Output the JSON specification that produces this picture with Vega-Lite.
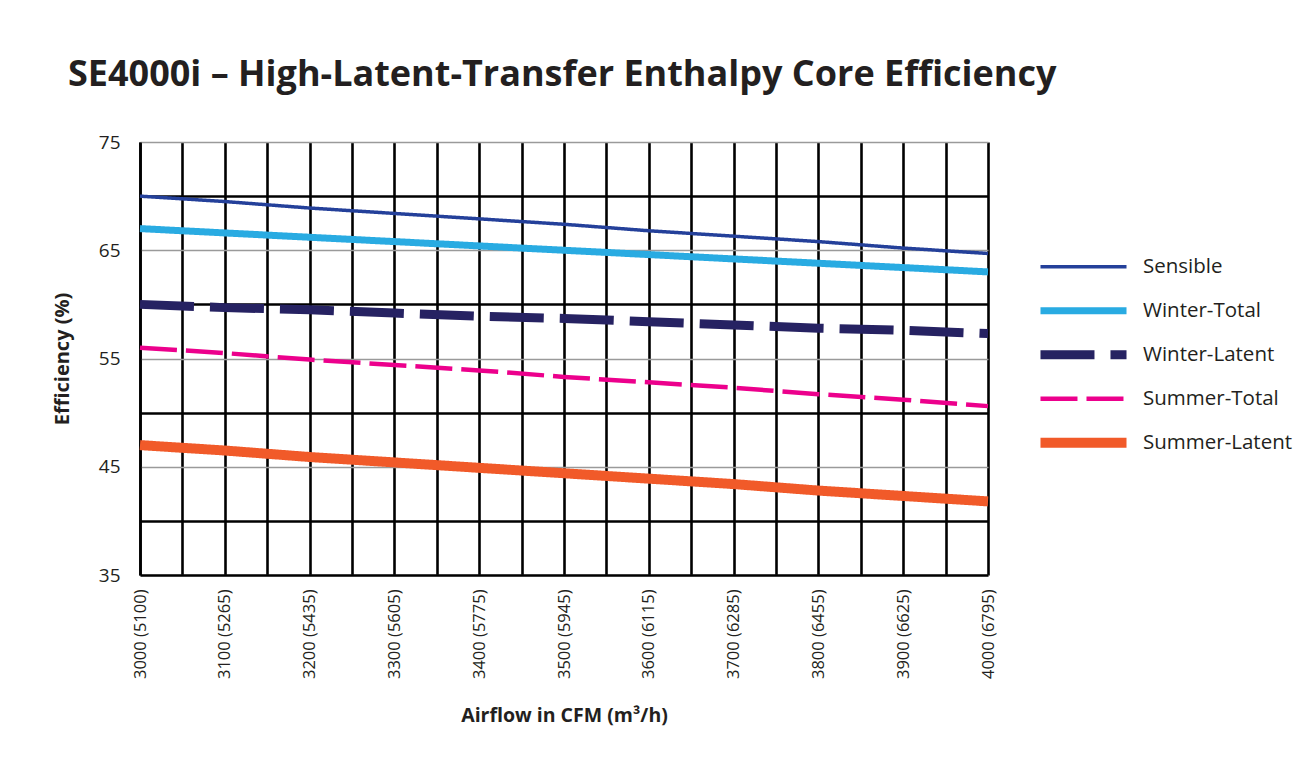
{
  "$schema": "https://vega.github.io/schema/vega-lite/v6.json",
  "width": 848,
  "height": 433,
  "autosize": "none",
  "padding": {"left": 140, "top": 142, "right": 327, "bottom": 199},
  "background": "white",
  "title": {
    "text": "SE4000i – High-Latent-Transfer Enthalpy Core Efficiency",
    "anchor": "start",
    "frame": "group",
    "dx": -72,
    "offset": 39,
    "fontSize": 36,
    "font": "Open Sans",
    "fontWeight": "bold",
    "color": "#231f20"
  },
  "data": {
    "values": [
      {"series": "Sensible", "cfm": 3000, "eff": 70.0},
      {"series": "Sensible", "cfm": 3100, "eff": 69.5},
      {"series": "Sensible", "cfm": 3200, "eff": 68.9},
      {"series": "Sensible", "cfm": 3300, "eff": 68.4},
      {"series": "Sensible", "cfm": 3400, "eff": 67.9},
      {"series": "Sensible", "cfm": 3500, "eff": 67.4},
      {"series": "Sensible", "cfm": 3600, "eff": 66.8},
      {"series": "Sensible", "cfm": 3700, "eff": 66.3},
      {"series": "Sensible", "cfm": 3800, "eff": 65.8},
      {"series": "Sensible", "cfm": 3900, "eff": 65.2},
      {"series": "Sensible", "cfm": 4000, "eff": 64.7},
      {"series": "Winter-Total", "cfm": 3000, "eff": 67.0},
      {"series": "Winter-Total", "cfm": 3100, "eff": 66.6},
      {"series": "Winter-Total", "cfm": 3200, "eff": 66.2},
      {"series": "Winter-Total", "cfm": 3300, "eff": 65.8},
      {"series": "Winter-Total", "cfm": 3400, "eff": 65.4},
      {"series": "Winter-Total", "cfm": 3500, "eff": 65.0},
      {"series": "Winter-Total", "cfm": 3600, "eff": 64.6},
      {"series": "Winter-Total", "cfm": 3700, "eff": 64.2},
      {"series": "Winter-Total", "cfm": 3800, "eff": 63.8},
      {"series": "Winter-Total", "cfm": 3900, "eff": 63.4},
      {"series": "Winter-Total", "cfm": 4000, "eff": 63.0},
      {"series": "Winter-Latent", "cfm": 3000, "eff": 60.0},
      {"series": "Winter-Latent", "cfm": 3100, "eff": 59.7},
      {"series": "Winter-Latent", "cfm": 3200, "eff": 59.5},
      {"series": "Winter-Latent", "cfm": 3300, "eff": 59.2},
      {"series": "Winter-Latent", "cfm": 3400, "eff": 58.9},
      {"series": "Winter-Latent", "cfm": 3500, "eff": 58.7},
      {"series": "Winter-Latent", "cfm": 3600, "eff": 58.4},
      {"series": "Winter-Latent", "cfm": 3700, "eff": 58.1},
      {"series": "Winter-Latent", "cfm": 3800, "eff": 57.8},
      {"series": "Winter-Latent", "cfm": 3900, "eff": 57.6},
      {"series": "Winter-Latent", "cfm": 4000, "eff": 57.3},
      {"series": "Summer-Total", "cfm": 3000, "eff": 56.0},
      {"series": "Summer-Total", "cfm": 3100, "eff": 55.5},
      {"series": "Summer-Total", "cfm": 3200, "eff": 54.9},
      {"series": "Summer-Total", "cfm": 3300, "eff": 54.4},
      {"series": "Summer-Total", "cfm": 3400, "eff": 53.9},
      {"series": "Summer-Total", "cfm": 3500, "eff": 53.3},
      {"series": "Summer-Total", "cfm": 3600, "eff": 52.8},
      {"series": "Summer-Total", "cfm": 3700, "eff": 52.3},
      {"series": "Summer-Total", "cfm": 3800, "eff": 51.7},
      {"series": "Summer-Total", "cfm": 3900, "eff": 51.2},
      {"series": "Summer-Total", "cfm": 4000, "eff": 50.6},
      {"series": "Summer-Latent", "cfm": 3000, "eff": 47.0},
      {"series": "Summer-Latent", "cfm": 3100, "eff": 46.5},
      {"series": "Summer-Latent", "cfm": 3200, "eff": 45.9},
      {"series": "Summer-Latent", "cfm": 3300, "eff": 45.4},
      {"series": "Summer-Latent", "cfm": 3400, "eff": 44.9},
      {"series": "Summer-Latent", "cfm": 3500, "eff": 44.4},
      {"series": "Summer-Latent", "cfm": 3600, "eff": 43.9},
      {"series": "Summer-Latent", "cfm": 3700, "eff": 43.4},
      {"series": "Summer-Latent", "cfm": 3800, "eff": 42.8},
      {"series": "Summer-Latent", "cfm": 3900, "eff": 42.3},
      {"series": "Summer-Latent", "cfm": 4000, "eff": 41.8}
    ]
  },
  "mark": {"type": "line", "strokeCap": "butt", "clip": false},
  "encoding": {
    "x": {
      "field": "cfm",
      "type": "quantitative",
      "scale": {"domain": [3000, 4000], "nice": false, "zero": false},
      "axis": {
        "values": [3000, 3050, 3100, 3150, 3200, 3250, 3300, 3350, 3400, 3450, 3500, 3550, 3600, 3650, 3700, 3750, 3800, 3850, 3900, 3950, 4000],
        "grid": true,
        "gridColor": "#000000",
        "gridWidth": 2.6,
        "gridOpacity": 1,
        "ticks": false,
        "domainColor": "#000000",
        "domainWidth": 2.6,
        "labelAngle": -90,
        "labelAlign": "right",
        "labelBaseline": "middle",
        "labelPadding": 14,
        "labelFontSize": 16.5,
        "labelOverlap": false,
        "labelFlush": false,
        "labelExpr": "datum.value % 100 === 0 ? datum.value + ' (' + [5100,5265,5435,5605,5775,5945,6115,6285,6455,6625,6795][(datum.value-3000)/100] + ')' : ''",
        "title": "Airflow in CFM (m³/h)",
        "titleFontSize": 19.5,
        "titleFontWeight": "bold",
        "titlePadding": 28
      }
    },
    "y": {
      "field": "eff",
      "type": "quantitative",
      "scale": {"domain": [35, 75], "nice": false, "zero": false},
      "axis": {
        "values": [35, 40, 45, 50, 55, 60, 65, 70, 75],
        "grid": true,
        "gridColor": {"condition": {"test": "datum.value % 10 === 0", "value": "#000000"}, "value": "#9a9a9a"},
        "gridWidth": {"condition": {"test": "datum.value % 10 === 0", "value": 2.6}, "value": 1.6},
        "gridOpacity": 1,
        "ticks": false,
        "domainColor": "#000000",
        "domainWidth": 2.6,
        "labelPadding": 20,
        "labelFontSize": 19,
        "labelFlush": false,
        "labelOverlap": false,
        "labelExpr": "datum.value % 10 === 5 ? datum.label : ''",
        "title": "Efficiency (%)",
        "titleFontSize": 20,
        "titleFontWeight": "bold",
        "titlePadding": 26
      }
    },
    "color": {
      "field": "series",
      "type": "nominal",
      "scale": {
        "domain": ["Sensible", "Winter-Total", "Winter-Latent", "Summer-Total", "Summer-Latent"],
        "range": ["#24409a", "#29abe2", "#262262", "#ec008c", "#f15a29"]
      },
      "legend": {
        "orient": "none",
        "legendX": 895,
        "legendY": 103,
        "title": null,
        "symbolType": "stroke",
        "symbolSize": 7400,
        "labelFontSize": 20.5,
        "labelOffset": 11,
        "clipHeight": 43.5,
        "rowPadding": 0
      }
    },
    "strokeDash": {
      "field": "series",
      "type": "nominal",
      "scale": {
        "domain": ["Sensible", "Winter-Total", "Winter-Latent", "Summer-Total", "Summer-Latent"],
        "range": [[1, 0], [1, 0], [54, 16], [37, 9], [1, 0]]
      },
      "legend": {
        "orient": "none",
        "legendX": 895,
        "legendY": 103,
        "title": null,
        "symbolType": "stroke",
        "symbolSize": 7400,
        "labelFontSize": 20.5,
        "labelOffset": 11,
        "clipHeight": 43.5,
        "rowPadding": 0
      }
    },
    "strokeWidth": {
      "field": "series",
      "type": "nominal",
      "scale": {
        "type": "ordinal",
        "domain": ["Sensible", "Winter-Total", "Winter-Latent", "Summer-Total", "Summer-Latent"],
        "range": [3.5, 7, 9, 4.5, 10]
      },
      "legend": {
        "orient": "none",
        "legendX": 895,
        "legendY": 103,
        "title": null,
        "symbolType": "stroke",
        "symbolSize": 7400,
        "labelFontSize": 20.5,
        "labelOffset": 11,
        "clipHeight": 43.5,
        "rowPadding": 0
      }
    }
  },
  "config": {
    "font": "Open Sans",
    "axis": {"labelFont": "Open Sans", "titleFont": "Open Sans", "labelColor": "#231f20", "titleColor": "#231f20"},
    "legend": {"labelFont": "Open Sans", "labelColor": "#231f20", "symbolLimit": 0},
    "view": {"stroke": null}
  }
}
